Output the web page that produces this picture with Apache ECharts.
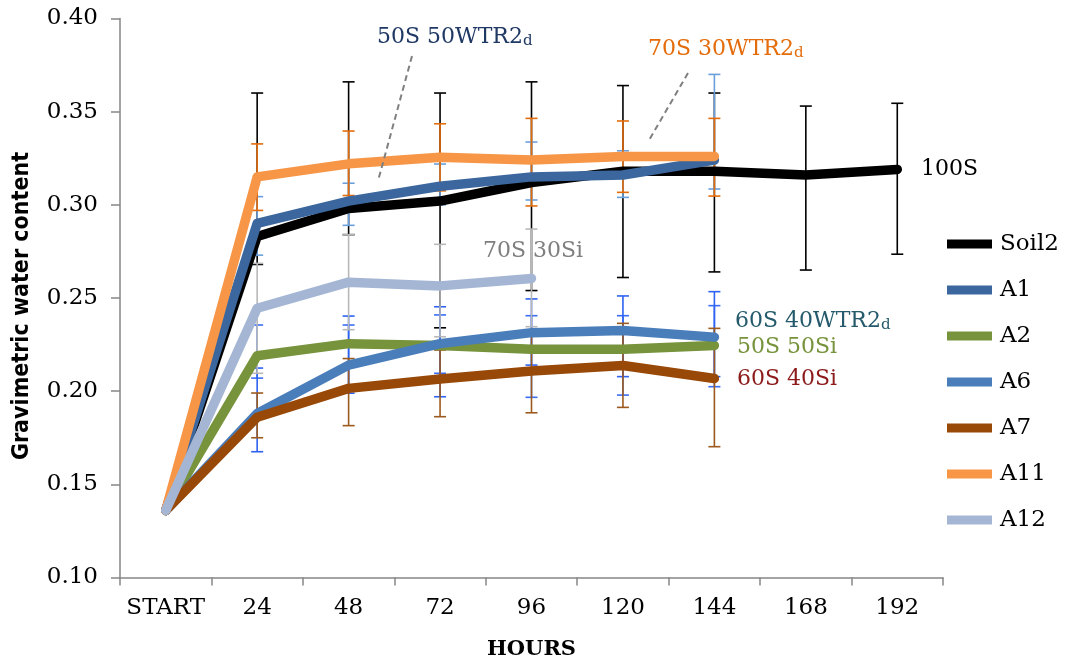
<!DOCTYPE html>
<html>
<head>
<meta charset="utf-8">
<script src="https://cdn.jsdelivr.net/npm/echarts@6/dist/echarts.min.js"></script>
<style>
html,body{margin:0;padding:0;background:#fff;}
#c{width:1073px;height:664px;}
</style>
</head>
<body>
<div id="c"></div>
<script>
const categories = ['START','24','48','72','96','120','144','168','192'];
const yTicks = [0.10,0.15,0.20,0.25,0.30,0.35,0.40];

const soil2     = [0.136, 0.283, 0.298, 0.302, 0.312, 0.318, 0.318, 0.316, 0.319];
const soil2Low  = [null, 0.268, 0.284, 0.234, 0.254, 0.261, 0.264, 0.265, 0.2735];
const soil2High = [null, 0.360, 0.366, 0.360, 0.366, 0.364, 0.360, 0.353, 0.3545];

const a1     = [0.136, 0.290, 0.302, 0.310, 0.315, 0.316, 0.324];
const a1Low  = [null, 0.273, 0.289, 0.300, 0.3026, 0.304, 0.3085];
const a1High = [null, 0.3044, 0.3116, 0.3219, 0.3337, 0.329, 0.370];

const a2     = [0.136, 0.219, 0.2255, 0.2245, 0.2225, 0.2225, 0.2245];
const a2Low  = [null, 0.207, 0.2015, 0.2096, 0.1967, 0.1979, 0.2024];
const a2High = [null, 0.2355, 0.2355, 0.2409, 0.2405, 0.2405, 0.2459];

const a6     = [0.136, 0.188, 0.214, 0.2255, 0.2314, 0.2325, 0.229];
const a6Low  = [null, 0.1675, 0.1989, 0.197, 0.214, 0.2078, 0.2078];
const a6High = [null, 0.2124, 0.2403, 0.2453, 0.2495, 0.2511, 0.2534];

const a7     = [0.136, 0.186, 0.2015, 0.2065, 0.2108, 0.2138, 0.2068];
const a7Low  = [null, 0.175, 0.1815, 0.1863, 0.1884, 0.1913, 0.1702];
const a7High = [null, 0.199, 0.2175, 0.2221, 0.2326, 0.2364, 0.2337];

const a11     = [0.136, 0.315, 0.322, 0.3255, 0.324, 0.326, 0.326];
const a11Low  = [null, 0.297, 0.305, 0.3075, 0.2994, 0.3067, 0.3047];
const a11High = [null, 0.3327, 0.3396, 0.3435, 0.3464, 0.345, 0.3464];

const a12     = [0.136, 0.2445, 0.2585, 0.2565, 0.2605];
const a12Low  = [null, 0.2096, 0.233, 0.2292, 0.2346];
const a12High = [null, 0.2686, 0.284, 0.2788, 0.287];

const seriesDefs = [
  {name:'Soil2', vals:soil2, low:soil2Low, high:soil2High, color:'#000000', err:'#000000'},
  {name:'A1',    vals:a1,    low:a1Low,    high:a1High,    color:'#3B679E', err:'#6A9FDB'},
  {name:'A2',    vals:a2,    low:a2Low,    high:a2High,    color:'#77933C', err:'#3A6DF5'},
  {name:'A6',    vals:a6,    low:a6Low,    high:a6High,    color:'#4A7EBB', err:'#2E62F0'},
  {name:'A7',    vals:a7,    low:a7Low,    high:a7High,    color:'#984807', err:'#9C5A1E'},
  {name:'A11',   vals:a11,   low:a11Low,   high:a11High,   color:'#F79646', err:'#E36C0A'},
  {name:'A12',   vals:a12,   low:a12Low,   high:a12High,   color:'#A5B6D4', err:'#B8B8B8'}
];

const SERIF = "'DejaVu Serif', serif";

function errSeries(d){
  const data = [];
  d.low.forEach((l,i)=>{ if(l!=null) data.push([i, l, d.high[i]]); });
  return {
    type:'custom', name:d.name+' err', silent:true, z:2,
    data, encode:{x:0, y:[1,2]},
    renderItem(params, api){
      const x = api.value(0);
      const lo = api.coord([x, api.value(1)]);
      const hi = api.coord([x, api.value(2)]);
      const w = 6;
      const st = {stroke:d.err, lineWidth:1.6};
      return {type:'group', children:[
        {type:'line', shape:{x1:lo[0],y1:lo[1],x2:hi[0],y2:hi[1]}, style:st},
        {type:'line', shape:{x1:lo[0]-w,y1:lo[1],x2:lo[0]+w,y2:lo[1]}, style:st},
        {type:'line', shape:{x1:hi[0]-w,y1:hi[1],x2:hi[0]+w,y2:hi[1]}, style:st}
      ]};
    }
  };
}

const series = [];
seriesDefs.forEach(d=>{
  series.push(errSeries(d));
  series.push({
    type:'line', name:d.name, data:d.vals, z:2,
    symbol:'none', showSymbol:false, smooth:false,
    color:d.color,
    lineStyle:{width:9.5, color:d.color, cap:'round', join:'round'}
  });
});

function label(x, y, main, sub, color){
  const rich = {
    m:{fontSize:22, fontFamily:SERIF, fill:color, lineHeight:24},
    s:{fontSize:15, fontFamily:SERIF, fill:color, verticalAlign:'bottom', lineHeight:8}
  };
  return {type:'text', left:x, top:y, z:100, silent:true,
    style:{text: sub ? '{m|'+main+'}{s|'+sub+'}' : '{m|'+main+'}', rich}};
}

const chart = echarts.init(document.getElementById('c'));
chart.setOption({
  animation:false,
  backgroundColor:'#ffffff',
  grid:{left:120, right:130, top:18.5, bottom:86.5, containLabel:false, outerBoundsMode:'none'},
  xAxis:{
    type:'category', data:categories, boundaryGap:true,
    name:'HOURS', nameLocation:'middle', nameGap:62,
    nameTextStyle:{fontFamily:SERIF, fontWeight:'bold', fontSize:21, color:'#000'},
    axisLine:{lineStyle:{color:'#868686', width:1.5}},
    axisTick:{show:true, interval:0, length:8, lineStyle:{color:'#868686', width:1.5}},
    axisLabel:{interval:0, fontFamily:SERIF, fontSize:23, color:'#000', margin:19}
  },
  yAxis:{
    type:'value', min:yTicks[0], max:yTicks[yTicks.length-1], interval:0.05,
    name:'Gravimetric water content', nameLocation:'middle', nameGap:86,
    nameTextStyle:{fontFamily:"'Liberation Sans Narrow','DejaVu Sans Condensed','Liberation Sans',sans-serif", fontWeight:'bold', fontSize:23, color:'#000', padding:[0,16,0,0]},
    axisLine:{show:true, lineStyle:{color:'#868686', width:1.5}},
    axisTick:{show:true, length:9, lineStyle:{color:'#868686', width:1.5}},
    splitLine:{show:false},
    axisLabel:{fontFamily:SERIF, fontSize:23, color:'#000', margin:22,
      formatter:v=>v.toFixed(2)}
  },
  legend:{
    data:seriesDefs.map(d=>d.name),
    orient:'vertical', left:942, top:226,
    icon:'rect', itemWidth:45, itemHeight:9, itemGap:20,
    textStyle:{fontFamily:SERIF, fontSize:23, color:'#000', lineHeight:26, padding:[0,0,0,3]}
  },
  graphic:[
    label(377, 26, '50S 50WTR2', 'd', '#1F3864'),
    label(648, 38, '70S 30WTR2', 'd', '#E46C0A'),
    label(483, 240, '70S 30Si', null, '#7F7F7F'),
    label(735, 310, '60S 40WTR2', 'd', '#245A6B'),
    label(737, 336, '50S 50Si', null, '#77933C'),
    label(737, 368, '60S 40Si', null, '#8C1A1A'),
    label(921, 158, '100S', null, '#000000'),
    {type:'line', silent:true, z:100, shape:{x1:412,y1:56,x2:378,y2:181},
      style:{stroke:'#808080', lineWidth:2, lineDash:[6,4]}},
    {type:'line', silent:true, z:100, shape:{x1:688,y1:73,x2:648,y2:142},
      style:{stroke:'#808080', lineWidth:2, lineDash:[6,4]}}
  ],
  series
});
</script>
</body>
</html>
